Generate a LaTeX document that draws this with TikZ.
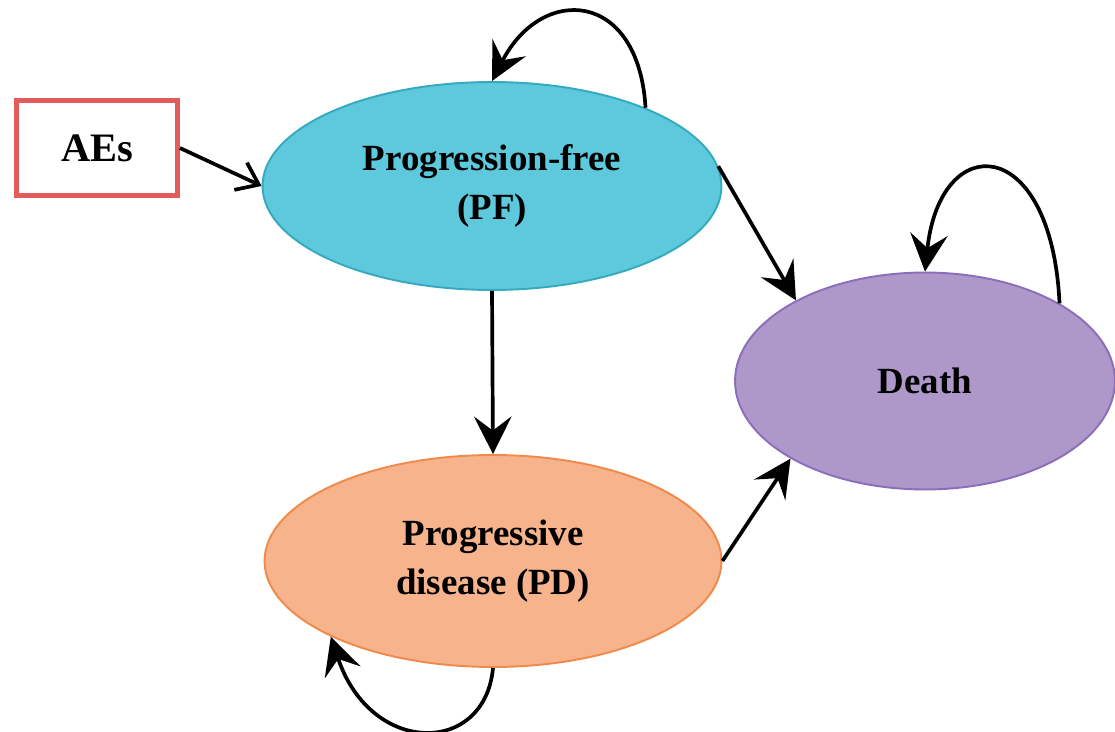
\documentclass[tikz,border=0pt]{standalone}
\usepackage{fontspec}
\setmainfont{Liberation Serif}
\usetikzlibrary{shapes.geometric,arrows.meta}
\definecolor{pfcyan}{HTML}{5EC9DD}
\definecolor{pfline}{HTML}{35A9BE}
\definecolor{pdorange}{HTML}{F7B48C}
\definecolor{pdline}{HTML}{F08A4B}
\definecolor{dviolet}{HTML}{AE98CA}
\definecolor{dline}{HTML}{8C6DB9}
\definecolor{aered}{HTML}{E35B5B}
\begin{document}
\begin{tikzpicture}[x=0.02cm, y=-0.02cm,
    font=\bfseries\fontsize{21}{28}\selectfont,
    state/.style={draw, ellipse, line width=1.1pt, align=center, inner sep=0pt},
    flow/.style={line width=2.1pt, -{Stealth[length=7.5mm, width=7.5mm, inset=2.8mm]}}]
  \useasboundingbox (0,0) rectangle (1115,732);
  % Health states
  \node[state, fill=pfcyan, draw=pfline, minimum width=9.18cm, minimum height=4.16cm]
    (pf) at (492,186) {Progression-free\\(PF)};
  \node[state, fill=pdorange, draw=pdline, minimum width=9.14cm, minimum height=4.24cm]
    (pd) at (493,561) {Progressive\\disease (PD)};
  \node[state, fill=dviolet, draw=dline, minimum width=7.6cm, minimum height=4.34cm]
    (death) at (925,381) {Death};
  % Adverse events box
  \node[draw=aered, line width=2.8pt, fill=white, minimum width=3.22cm, minimum height=1.9cm,
        font=\bfseries\fontsize{23}{28}\selectfont]
    (aes) at (97,148) {AEs};
  % Transitions
  \draw[line width=2.1pt, -{Straight Barb[length=4mm, width=6mm]}] (aes.east) -- (pf.west);
  \draw[flow] (pf.south) -- (pd.north);
  \draw[flow] (pf.5) -- (death.148);
  \draw[flow] (pd.east) -- (death.210);
  % Staying in the same state
  \draw[flow] (pf.27) .. controls +(-7,-118) and +(50,-97) .. (pf.north);
  \draw[flow] (death.30) .. controls +(-8,-170) and +(15,-143) .. (death.north);
  \draw[flow] (pd.south) .. controls +(-8,88) and +(40,120) .. (pd.205);
\end{tikzpicture}
\end{document}
